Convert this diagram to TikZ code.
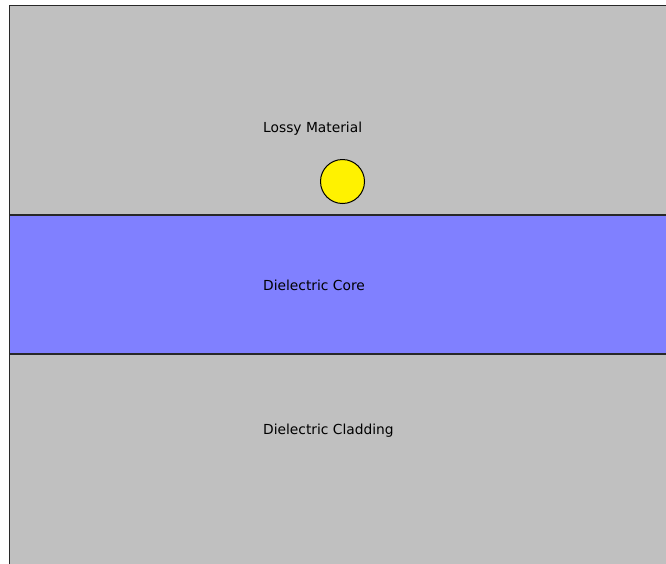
\documentclass[tikz,border=0pt]{standalone}
\usepackage{fontspec}
\setmainfont{DejaVu Sans}
\definecolor{cladgray}{RGB}{192,192,192}
\definecolor{coreblue}{RGB}{128,128,255}
\definecolor{edgegray}{RGB}{40,40,40}
\tikzset{
  layer/.style={draw=edgegray, line width=1.4pt},
  label/.style={anchor=west, inner sep=0pt, font=\fontsize{13.8}{16}\selectfont},
}
\begin{document}
\begin{tikzpicture}[x=1pt, y=-1pt]
  \useasboundingbox (0,0) rectangle (666,563);
  \begin{scope}
    \clip (0,0) rectangle (666,563);
    % lossy top layer and cladding
    \fill[cladgray] (9.5,5.5) rectangle (680,580);
    % core band
    \fill[coreblue] (9.5,215) rectangle (680,354);
    \draw[layer] (9.5,580) -- (9.5,5.5) -- (680,5.5);
    \draw[layer] (9.5,215) -- (680,215);
    \draw[layer] (9.5,354) -- (680,354);
  \end{scope}
  % particle
  \node[circle, draw=black, fill=yellow, line width=1pt, minimum size=44pt, inner sep=0pt] (dot) at (342.5,181.5) {};
  \node[label] (lossy) at (263,129) {Lossy Material};
  \node[label] (core) at (263,285.5) {Dielectric Core};
  \node[label] (clad) at (263,431) {Dielectric Cladding};
\end{tikzpicture}
\end{document}
